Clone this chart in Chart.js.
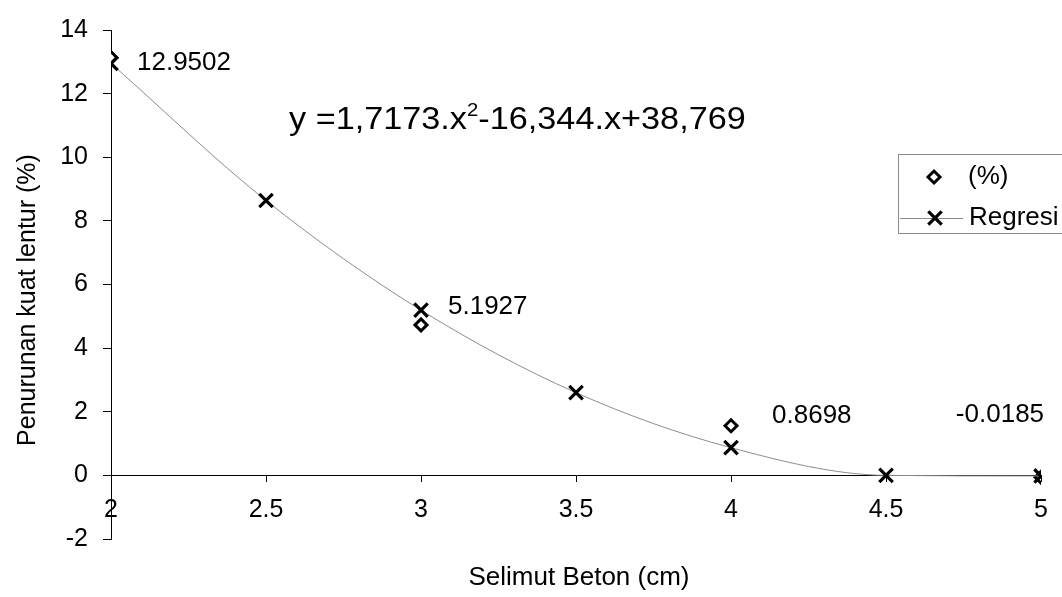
<!DOCTYPE html>
<html>
<head>
<meta charset="utf-8">
<script src="https://cdn.jsdelivr.net/npm/chart.js@4.4.0/dist/chart.umd.min.js"></script>
<style>
  html, body { margin: 0; padding: 0; background: #fff; }
  #wrap { width: 1062px; height: 597px; }
</style>
</head>
<body>
<div id="wrap"><canvas id="chart"></canvas></div>
<script>
// measured points
const selimut = [2, 3, 4, 5];
const penurunan = [13.13, 4.73, 1.56, -0.06];

// fitted curve
const selimutRegresi = [2, 2.5, 3, 3.5, 4, 4.5, 5];
const regresi = [12.9502, 8.64, 5.1927, 2.60, 0.8698, 0.0, -0.0185];
const labelledPoints = [0, 2, 4, 6];

const yTicks = { min: -2, max: 14, step: 2 };
const xTicks = { min: 2, max: 5, step: 0.5 };

const FONT = 'Liberation Sans, Arial, sans-serif';

// label placement next to its point: dx, dy, align
const labelOffsets = [[26, -1, 'left'], [27, -3, 'left'], [41, -32, 'left'], [3, -61, 'right']];

const toXY = (xs, ys) => xs.map((x, i) => ({ x, y: ys[i] }));

const extras = {
    id: 'extras',
    afterDatasetsDraw: (chart) => {
        const ctx = chart.ctx;
        const xs = chart.scales.x, ys = chart.scales.y;
        ctx.save();
        ctx.fillStyle = '#000';
        ctx.font = '26px ' + FONT;
        ctx.textBaseline = 'middle';

        // value labels on the curve
        labelledPoints.forEach((idx, i) => {
            const [dx, dy, align] = labelOffsets[i];
            const px = xs.getPixelForValue(selimutRegresi[idx]);
            const py = ys.getPixelForValue(regresi[idx]);
            ctx.textAlign = align;
            ctx.fillText(regresi[idx].toFixed(4), px + dx, py + dy);
        });

        // regression equation, slightly widened
        ctx.save();
        ctx.translate(289, 129);
        ctx.scale(1.07, 1);
        ctx.textAlign = 'left';
        ctx.textBaseline = 'alphabetic';
        ctx.font = '32px ' + FONT;
        let ex = 0;
        const part1 = 'y =1,7173.x';
        ctx.fillText(part1, ex, 0);
        ex += ctx.measureText(part1).width;
        ctx.font = '19px ' + FONT;
        ctx.fillText('2', ex, -13);
        ex += ctx.measureText('2').width;
        ctx.font = '32px ' + FONT;
        ctx.fillText('-16,344.x+38,769', ex, 0);
        ctx.restore();

        // axis titles
        ctx.textAlign = 'center';
        ctx.textBaseline = 'middle';
        ctx.font = '26px ' + FONT;
        ctx.fillText('Selimut Beton (cm)', 579, 578);
        ctx.font = '25px ' + FONT;
        ctx.translate(28, 300);
        ctx.rotate(-Math.PI / 2);
        ctx.fillText('Penurunan kuat lentur (%)', 0, 0);
        ctx.restore();

        // legend box
        ctx.save();
        ctx.strokeStyle = '#8a8a8a';
        ctx.lineWidth = 1;
        ctx.strokeRect(898.5, 154.5, 180, 79);
        const ds = chart.data.datasets;
        // line sample for the curve
        ctx.strokeStyle = ds[1].borderColor;
        ctx.beginPath();
        ctx.moveTo(900, 218.5);
        ctx.lineTo(963, 218.5);
        ctx.stroke();
        ctx.strokeStyle = '#000';
        ctx.fillStyle = '#fff';
        ctx.lineWidth = ds[0].pointBorderWidth;
        Chart.helpers.drawPoint(ctx, {
            pointStyle: ds[0].pointStyle, radius: ds[0].pointRadius, borderWidth: ds[0].pointBorderWidth
        }, 934, 177);
        ctx.lineWidth = ds[1].pointBorderWidth;
        Chart.helpers.drawPoint(ctx, {
            pointStyle: ds[1].pointStyle, radius: ds[1].pointRadius, borderWidth: ds[1].pointBorderWidth
        }, 935, 218);
        ctx.fillStyle = '#000';
        ctx.font = '26px ' + FONT;
        ctx.textAlign = 'left';
        ctx.textBaseline = 'middle';
        ctx.fillText(ds[0].label, 968, 177);
        ctx.fillText(ds[1].label, 969, 218);
        ctx.restore();
    }
};

Chart.defaults.font.family = FONT;
Chart.defaults.font.size = 25;
Chart.defaults.color = '#000';

new Chart(document.getElementById('chart'), {
    type: 'scatter',
    data: {
        datasets: [
            {
                label: '(%)',
                data: toXY(selimut, penurunan),
                pointStyle: 'rectRot',
                pointRadius: 6,
                pointBorderWidth: 3,
                pointBackgroundColor: '#fff',
                pointBorderColor: '#000',
                showLine: false,
                order: 2
            },
            {
                label: 'Regresi',
                data: toXY(selimutRegresi, regresi),
                showLine: true,
                borderColor: '#8c8c8c',
                borderWidth: 1,
                cubicInterpolationMode: 'monotone',
                pointStyle: 'crossRot',
                pointRadius: 9.5,
                pointBorderWidth: 3.2,
                pointBorderColor: '#000',
                pointBackgroundColor: '#000',
                order: 1
            }
        ]
    },
    options: {
        responsive: true,
        maintainAspectRatio: false,
        animation: false,
        layout: { padding: { left: 0, right: 19, top: 25, bottom: 58 } },
        plugins: {
            legend: { display: false },
            tooltip: { enabled: false }
        },
        scales: {
            x: {
                type: 'linear',
                position: { y: 0 },
                min: xTicks.min,
                max: xTicks.max,
                ticks: { stepSize: xTicks.step, padding: 14, maxRotation: 0, callback: (v) => String(v) },
                grid: { drawOnChartArea: false, drawTicks: true, tickLength: 6, color: '#000' },
                border: { color: '#000', width: 1 }
            },
            y: {
                type: 'linear',
                position: 'left',
                min: yTicks.min,
                max: yTicks.max,
                ticks: { stepSize: yTicks.step, padding: 15, callback: (v) => String(v) },
                grid: { drawOnChartArea: false, drawTicks: true, tickLength: 8, color: '#000' },
                border: { color: '#000', width: 1 },
                afterFit: (scale) => { scale.width = 111; }
            }
        }
    },
    plugins: [extras]
});
</script>
</body>
</html>
